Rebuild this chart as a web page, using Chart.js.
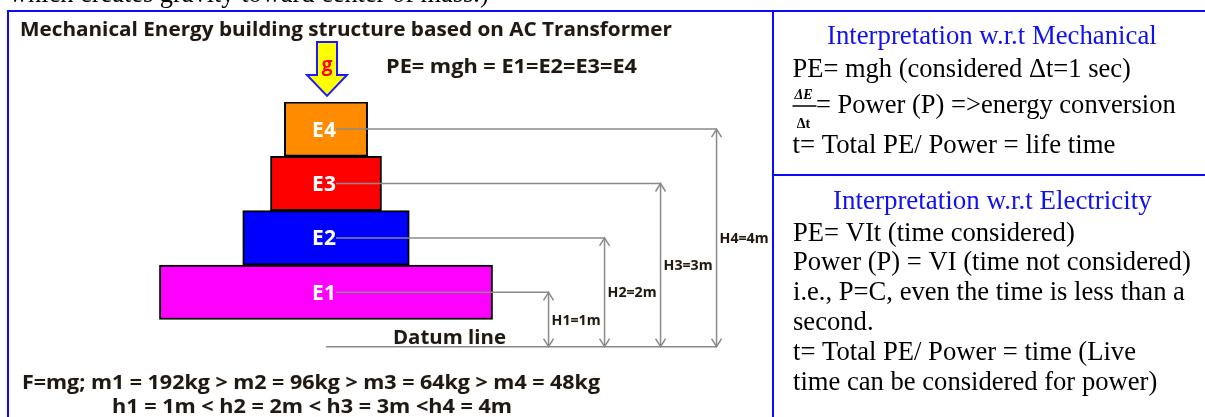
<!DOCTYPE html>
<html><head><meta charset="utf-8">
<script src="https://cdn.jsdelivr.net/npm/chart.js@4.4.1/dist/chart.umd.min.js"></script>
<style>html,body{margin:0;padding:0;background:#fff;overflow:hidden}canvas{display:block}</style>
</head><body>
<canvas id="c" width="1205" height="417"></canvas>
<script>
// ---- data ----
const blocks = ['E4', 'E3', 'E2', 'E1'];
const masses = [48, 64, 96, 192];          // kg (block width proportional to mass)
const heights = [4, 3, 2, 1];              // m above datum line
const hLabels = ['H4=4m', 'H3=3m', 'H2=2m', 'H1=1m'];
const blockColors = ['#FF8C00', '#FF0000', '#0000FF', '#FF00FF'];
const topCutText = 'which creates gravity toward center of mass.)';
const titleText = 'Mechanical Energy building structure based on AC Transformer';
const peText = 'PE= mgh = E1=E2=E3=E4';
const gText = 'g';
const datumText = 'Datum line';
const massLine = 'F=mg; m1 = 192kg > m2 = 96kg > m3 = 64kg > m4 = 48kg';
const heightLine = 'h1 = 1m < h2 = 2m < h3 = 3m <h4 = 4m';
const mechTitle = 'Interpretation w.r.t Mechanical';
const mechLine1 = 'PE= mgh (considered \u0394t=1 sec)';
const fracTop = '\u0394E', fracBottom = '\u0394t';
const mechLine2 = '= Power (P) =>energy conversion';
const mechLine3 = 't= Total PE/ Power = life time';
const elecTitle = 'Interpretation w.r.t Electricity';
const elecLines = [
  'PE= VIt (time considered)',
  'Power (P) = VI (time not considered)',
  'i.e., P=C, even the time is less than a',
  'second.',
  't= Total PE/ Power = time (Live',
  'time can be considered for power)'
];

const barData = blocks.map((b, i) => ({ y: heights[i], x: [-masses[i] / 2, masses[i] / 2] }));

// ---- helpers ----
function squish(c, text, left, base, width, font) {
  c.font = font;
  const m = c.measureText(text).width;
  c.save();
  c.translate(left, base);
  c.scale(width / m, 1);
  c.textAlign = 'left';
  c.fillText(text, 0, 0);
  c.restore();
}
function fitSize(c, text, width, family) {
  c.font = '100px ' + family;
  return 100 * width / c.measureText(text).width;
}
function seg(c, x1, y1, x2, y2) { c.beginPath(); c.moveTo(x1, y1); c.lineTo(x2, y2); c.stroke(); }

const SANS = '"Open Sans", Lato, sans-serif';
const SERIF = '"Liberation Serif", "DejaVu Serif", serif';

const deco = {
  id: 'deco',
  beforeDraw(chart) {
    const c = chart.ctx;
    c.save(); c.fillStyle = '#fff'; c.fillRect(0, 0, chart.width, chart.height); c.restore();
  },
  afterDatasetsDraw(chart) {
    const c = chart.ctx, xs = chart.scales.x, ys = chart.scales.y;
    const cx = xs.getPixelForValue(0);
    const maxM = Math.max(...masses), maxH = Math.max(...heights);
    const baseRight = xs.getPixelForValue(maxM / 2);
    const datumY = ys.getPixelForValue(0);
    const topY = ys.getPixelForValue(maxH + 0.5);
    const step = 56;
    c.save();
    c.textBaseline = 'alphabetic';
    // block labels
    c.fillStyle = '#fff'; c.textAlign = 'center';
    c.font = 'bold 21px ' + SANS;
    blocks.forEach((b, i) => {
      const y = ys.getPixelForValue(heights[i]);
      c.fillText(b, cx - 2, y + 7.5);
    });
    // leader lines + dimension arrows
    c.strokeStyle = '#8a8a8a'; c.lineWidth = 1.5;
    blocks.forEach((b, i) => {
      const y = ys.getPixelForValue(heights[i]);
      const ax = baseRight + step * heights[i];
      seg(c, cx + 10, y, ax, y);
      seg(c, ax, y, ax, datumY);
      c.beginPath(); c.moveTo(ax - 5, y + 8); c.lineTo(ax, y); c.lineTo(ax + 5, y + 8); c.stroke();
      c.beginPath(); c.moveTo(ax - 5, datumY - 8); c.lineTo(ax, datumY); c.lineTo(ax + 5, datumY - 8); c.stroke();
    });
    seg(c, cx, datumY, baseRight + step * maxH, datumY);
    // H labels
    c.fillStyle = '#1a1a1a';
    c.shadowColor = 'rgba(230,130,40,0.35)'; c.shadowBlur = 1.5;
    blocks.forEach((b, i) => {
      const y = ys.getPixelForValue(heights[i]);
      const ax = baseRight + step * heights[i];
      squish(c, hLabels[i], ax + 3, (y + datumY) / 2 + 5, 49, 'bold 14px ' + SANS);
    });
    // datum text
    squish(c, datumText, cx + 67, datumY - 3, 113, 'bold 19px ' + SANS);
    c.shadowColor = 'transparent'; c.shadowBlur = 0;
    // gravity arrow
    const tipX = cx + 1, tipY = topY - 6;
    c.beginPath();
    c.moveTo(tipX - 10, tipY - 54); c.lineTo(tipX + 10, tipY - 54);
    c.lineTo(tipX + 10, tipY - 21); c.lineTo(tipX + 20, tipY - 21);
    c.lineTo(tipX, tipY); c.lineTo(tipX - 20, tipY - 21); c.lineTo(tipX - 10, tipY - 21);
    c.closePath();
    c.fillStyle = '#FFFF00'; c.fill();
    c.strokeStyle = '#1a1aff'; c.lineWidth = 2; c.lineJoin = 'miter'; c.stroke();
    c.fillStyle = '#FF0000'; c.textAlign = 'center';
    c.font = 'bold 19px ' + SANS;
    c.fillText(gText, tipX, tipY - 25);
    // left panel texts
    c.fillStyle = '#1a1a1a';
    c.shadowColor = 'rgba(230,130,40,0.35)'; c.shadowBlur = 1.5;
    squish(c, titleText, 20, 36, 652, 'bold 19px ' + SANS);
    squish(c, peText, 386, 72.5, 251, 'bold 19px ' + SANS);
    squish(c, massLine, 22, 389, 578, 'bold 19px ' + SANS);
    squish(c, heightLine, 112, 413, 400, 'bold 19px ' + SANS);
    c.shadowColor = 'transparent'; c.shadowBlur = 0;
    // top cut text
    c.fillStyle = '#000';
    c.textAlign = 'left';
    let s = fitSize(c, topCutText, 480, SERIF);
    c.font = s + 'px ' + SERIF; c.fillText(topCutText, 9, 2);
    // frames
    c.strokeStyle = '#0a0aff'; c.lineWidth = 2;
    seg(c, 8, 11, 1205, 11);
    seg(c, 8, 10, 8, 417);
    seg(c, 773, 10, 773, 417);
    seg(c, 773, 175, 1205, 175);
    // right panel: mechanical
    const L = 792.5;
    c.fillStyle = '#1010f0';
    s = fitSize(c, mechTitle, 330, SERIF); c.font = s + 'px ' + SERIF; c.fillText(mechTitle, 827, 43.5);
    c.fillStyle = '#000';
    s = fitSize(c, mechLine1, 338.5, SERIF); c.font = s + 'px ' + SERIF; c.fillText(mechLine1, L, 77);
    s = fitSize(c, mechLine2, 360, SERIF); c.font = s + 'px ' + SERIF; c.fillText(mechLine2, L + 23.5, 113);
    s = fitSize(c, mechLine3, 323, SERIF); c.font = s + 'px ' + SERIF; c.fillText(mechLine3, L, 152.5);
    // fraction
    c.textAlign = 'center';
    c.font = 'italic bold 14px ' + SERIF; c.fillText(fracTop, L + 11, 99);
    c.font = 'bold 14px ' + SERIF; c.fillText(fracBottom, L + 11, 128);
    c.strokeStyle = '#000'; c.lineWidth = 1.5; seg(c, L, 106, L + 24, 106);
    c.textAlign = 'left';
    // right panel: electricity
    c.fillStyle = '#1010f0';
    s = fitSize(c, elecTitle, 319, SERIF); c.font = s + 'px ' + SERIF; c.fillText(elecTitle, 833, 209);
    c.fillStyle = '#000';
    const ref = fitSize(c, elecLines[1], 398, SERIF);
    c.font = ref + 'px ' + SERIF;
    elecLines.forEach((t, i) => c.fillText(t, L + 0.5, 240.5 + i * 29.9));
    c.restore();
  }
};

new Chart(document.getElementById('c').getContext('2d'), {
  type: 'bar',
  data: {
    labels: blocks,
    datasets: [{
      data: barData,
      backgroundColor: blockColors,
      borderColor: '#000',
      borderWidth: 2,
      borderSkipped: false,
      barPercentage: 1,
      categoryPercentage: 1
    }]
  },
  options: {
    indexAxis: 'y',
    responsive: false,
    animation: false,
    devicePixelRatio: 1,
    layout: { padding: { left: 152.5, right: 705.5, top: 101.9, bottom: 70.3 } },
    scales: {
      x: { type: 'linear', min: -100, max: 100, display: false },
      y: {
        type: 'linear', min: 0, max: 4.5, display: false, offset: false,
        afterBuildTicks: axis => { axis.ticks = heights.map(v => ({ value: v })); }
      }
    },
    plugins: { legend: { display: false }, tooltip: { enabled: false } }
  },
  plugins: [deco]
});
</script>
</body></html>
